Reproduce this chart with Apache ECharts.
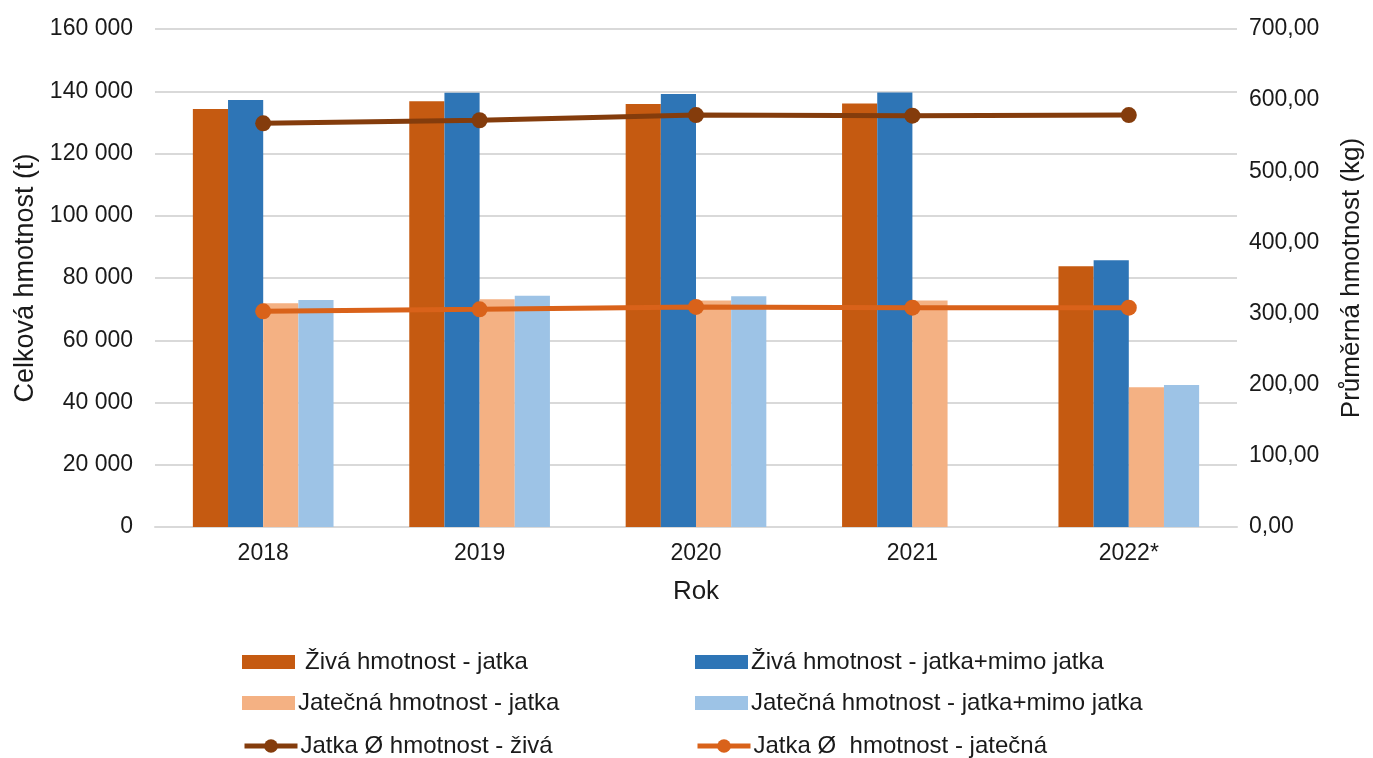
<!DOCTYPE html>
<html>
<head>
<meta charset="utf-8">
<script src="https://cdn.jsdelivr.net/npm/echarts@6/dist/echarts.min.js"></script>
<style>
html,body{margin:0;padding:0;background:#fff;}
#chart{width:1373px;height:758px;}
</style>
</head>
<body>
<div id="chart"></div>
<script>
const years = ['2018', '2019', '2020', '2021', '2022*'];
const zivaJatka = [134300, 136800, 135900, 136100, 83800];
const zivaCelkem = [137200, 139500, 139100, 139600, 85700];
const jatecnaJatka = [71900, 73200, 72800, 72800, 44900];
const jatecnaCelkem = [72900, 74300, 74100, null, 45600];
const prumerZiva = [567.4, 571.7, 579.0, 578.2, 579.0];
const prumerJatecna = [303.2, 306.0, 309.3, 308.3, 308.3];

const names = [
  'Živá hmotnost - jatka',
  'Živá hmotnost - jatka+mimo jatka',
  'Jatečná hmotnost - jatka',
  'Jatečná hmotnost - jatka+mimo jatka',
  'Jatka Ø hmotnost - živá',
  'Jatka Ø  hmotnost - jatečná'
];
const colors = ['#C55A11', '#2E75B6', '#F4B183', '#9DC3E6', '#843C0C', '#D9621A'];

const FONT = '"Liberation Sans", Arial, sans-serif';
const TXT = '#1a1a1a';

const chart = echarts.init(document.getElementById('chart'));

const legendPos = [
  {left: 242, top: 650}, {left: 695, top: 650},
  {left: 242, top: 691}, {left: 695, top: 691},
  {left: 242, top: 734}, {left: 695, top: 734}
];

const legends = names.map((n, i) => ({
  data: [n],
  left: legendPos[i].left,
  top: legendPos[i].top,
  itemWidth: 53,
  itemHeight: i < 4 ? 14 : 17,
  itemGap: 0,
  padding: 0,
  icon: i < 4 ? 'rect' : undefined,
  lineStyle: i >= 4 ? {width: 5} : undefined,
  selectedMode: false,
  textStyle: {fontFamily: FONT, fontSize: 24, color: TXT, padding: [0, 0, 0, i === 0 ? 5 : -2]}
}));

function barSeries(i, data) {
  return {
    name: names[i], type: 'bar', data: data, yAxisIndex: 0,
    barGap: '0%', barCategoryGap: '35%',
    itemStyle: {color: colors[i]},
    emphasis: {disabled: true}
  };
}
function lineSeries(i, data) {
  return {
    name: names[i], type: 'line', data: data, yAxisIndex: 1,
    symbol: 'circle', symbolSize: 16,
    lineStyle: {color: colors[i], width: 5},
    itemStyle: {color: colors[i]},
    emphasis: {disabled: true}, z: 5
  };
}

chart.setOption({
  animation: false,
  backgroundColor: '#fff',
  textStyle: {fontFamily: FONT},
  grid: {left: 155, right: 126, top: 29, bottom: 231},
  legend: legends,
  xAxis: {
    type: 'category', data: years,
    name: 'Rok', nameLocation: 'middle', nameGap: 52,
    nameTextStyle: {fontFamily: FONT, fontSize: 26, color: TXT},
    axisLine: {lineStyle: {color: '#d9d9d9', width: 2}},
    axisTick: {show: false},
    axisLabel: {fontFamily: FONT, fontSize: 23, color: TXT, margin: 15}
  },
  yAxis: [
    {
      type: 'value', min: 0, max: 160000, interval: 20000,
      name: 'Celková hmotnost (t)', nameLocation: 'middle', nameGap: 113,
      nameTextStyle: {fontFamily: FONT, fontSize: 27, color: TXT},
      axisLine: {show: false}, axisTick: {show: false},
      axisLabel: {fontFamily: FONT, fontSize: 23, color: TXT, margin: 22,
        formatter: v => String(v).replace(/\B(?=(\d{3})+(?!\d))/g, ' ')},
      splitLine: {lineStyle: {color: '#d9d9d9', width: 2}}
    },
    {
      type: 'value', min: 0, max: 700, interval: 100, position: 'right',
      name: 'Průměrná hmotnost (kg)', nameLocation: 'middle', nameGap: 102,
      nameTextStyle: {fontFamily: FONT, fontSize: 26, color: TXT},
      axisLine: {show: false}, axisTick: {show: false},
      axisLabel: {fontFamily: FONT, fontSize: 23, color: TXT, margin: 12,
        formatter: v => v.toFixed(2).replace('.', ',')},
      splitLine: {show: false}
    }
  ],
  series: [
    barSeries(0, zivaJatka),
    barSeries(1, zivaCelkem),
    barSeries(2, jatecnaJatka),
    barSeries(3, jatecnaCelkem),
    lineSeries(4, prumerZiva),
    lineSeries(5, prumerJatecna)
  ]
});
</script>
</body>
</html>
